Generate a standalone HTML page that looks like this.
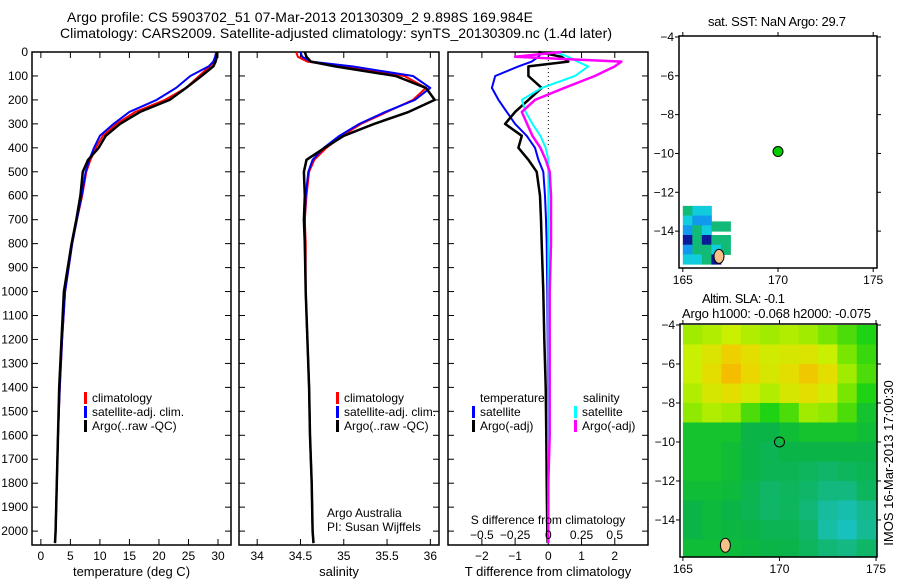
<!DOCTYPE html>
<html><head><meta charset="utf-8"><style>
body{margin:0;background:#fff;width:900px;height:580px;overflow:hidden}
svg{font-family:"Liberation Sans",sans-serif;font-size:12px}
</style></head><body>
<svg id="fig" width="900" height="580"></svg>
<script>
// ---------- data ----------
const depthArgo = [0,20,40,60,100,150,200,250,300,350,400,450,500,600,700,800,1000,1200,1400,1600,1800,2000,2050];
const tempArgo  = [29.9,29.8,29.6,29.2,27.2,24.6,21.8,16.8,13.4,11.0,9.8,8.0,7.1,6.7,6.0,5.2,3.9,3.5,3.1,2.9,2.7,2.5,2.4];
const tempClim  = [29.8,29.7,29.4,28.6,26.8,24.6,21.0,16.0,12.8,10.5,9.3,8.4,7.7,7.0,6.1,5.3,4.1,3.6,3.2,2.9,2.7,2.5,2.4];
const tempSat   = [29.7,29.5,29.2,28.4,25.3,22.9,19.6,15.0,12.3,10.0,9.0,8.2,7.6,6.9,6.1,5.3,4.1,3.6,3.2,2.9,2.7,2.5,2.4];
const salArgo   = [34.55,34.57,34.62,34.9,35.6,35.95,36.05,35.75,35.35,35.0,34.78,34.57,34.54,34.55,34.54,34.55,34.56,34.58,34.6,34.61,34.63,34.64,34.65];
const salClim   = [34.45,34.47,34.58,35.0,35.7,35.95,35.8,35.5,35.2,34.98,34.8,34.66,34.6,34.57,34.55,34.56,34.56,34.58,34.6,34.61,34.63,34.64,34.65];
const salSat    = [34.5,34.52,34.62,35.1,35.8,36.0,35.82,35.48,35.18,34.95,34.77,34.64,34.59,34.56,34.55,34.55,34.56,34.58,34.6,34.61,34.63,34.64,34.65];
const dTsat     = [-0.2,-0.3,-0.5,-0.9,-1.6,-1.7,-1.5,-1.25,-1.0,-0.65,-0.4,-0.3,-0.15,-0.1,-0.07,-0.05,-0.03,-0.02,-0.01,0,0,0,0];
const dTargo    = [-0.3,0.4,0.6,-0.6,-0.6,-0.2,-0.6,-1.0,-1.3,-0.8,-0.9,-0.6,-0.35,-0.25,-0.22,-0.2,-0.15,-0.12,-0.08,-0.06,-0.05,-0.03,-0.02];
const dSsat     = [0.05,0.15,0.22,0.3,0.2,-0.05,-0.2,-0.17,-0.12,-0.06,-0.02,0,0,0,0,0,0,0,0,0,0,0,0];
const dSargo    = [0.1,-0.25,0.55,0.5,0.35,0.12,-0.1,-0.2,-0.16,-0.12,-0.06,-0.02,0.01,0.02,0.02,0.02,0.01,0.01,0.01,0.01,0.0,0.0,0.0];
const depthTicks = [0,100,200,300,400,500,600,700,800,900,1000,1100,1200,1300,1400,1500,1600,1700,1800,1900,2000];
const tempTicks = [0,5,10,15,20,25,30];
const salTicks = [34,34.5,35,35.5,36];
const dTTicks = [-2,-1,0,1,2];
const dSTicks = [-0.5,-0.25,0,0.25,0.5];
const lonTicks = [165,170,175];
const latTicks = [-4,-6,-8,-10,-12,-14];
// SLA grid rows lat -4..-16 (1 deg), cols lon 165..175 (1 deg); 0=cyan .. 1=orange
const slaGrid = [
[0.70,0.72,0.75,0.72,0.70,0.72,0.70,0.65,0.60,0.55],
[0.75,0.82,0.90,0.85,0.78,0.80,0.82,0.75,0.65,0.58],
[0.75,0.85,0.95,0.88,0.80,0.85,0.92,0.85,0.70,0.60],
[0.72,0.80,0.85,0.78,0.72,0.80,0.85,0.78,0.65,0.55],
[0.68,0.72,0.70,0.60,0.55,0.60,0.70,0.68,0.60,0.50],
[0.50,0.50,0.50,0.45,0.45,0.48,0.50,0.50,0.50,0.48],
[0.50,0.50,0.48,0.45,0.42,0.45,0.45,0.45,0.45,0.45],
[0.50,0.50,0.48,0.45,0.42,0.42,0.40,0.38,0.40,0.42],
[0.48,0.48,0.47,0.43,0.38,0.40,0.38,0.33,0.33,0.40],
[0.45,0.47,0.45,0.42,0.38,0.40,0.35,0.25,0.20,0.30],
[0.45,0.47,0.46,0.45,0.42,0.42,0.38,0.22,0.15,0.28],
[0.48,0.48,0.47,0.46,0.45,0.44,0.40,0.35,0.32,0.38]];
// SST patch cells: lon, lat(top), colour index
const sstLon = [165,165.5,166,165,165.5,166,165,165.5,166,166.5,167,165,165.5,166,166.5,167,165,165.5,166,166.5,167,165,165.5,166,166.5];
const sstLat = [-12.7,-12.7,-12.7,-13.2,-13.2,-13.2,-13.7,-13.7,-13.7,-13.5,-13.5,-14.2,-14.2,-14.2,-14.2,-14.2,-14.7,-14.7,-14.7,-14.7,-14.7,-15.2,-15.2,-15.2,-15.2];
const sstCol = [0,1,1,1,2,2,2,0,1,0,0,3,0,3,0,0,2,0,0,1,0,1,1,0,3];
// ---------- helpers ----------
const NS="http://www.w3.org/2000/svg";
const svg=document.getElementById('fig');
function el(tag,attrs,parent){const e=document.createElementNS(NS,tag);for(const k in attrs)e.setAttribute(k,attrs[k]);(parent||svg).appendChild(e);return e;}
function txt(x,y,s,anchor,parent){const t=el('text',{x:x,y:y,'text-anchor':anchor||'start'},parent);t.textContent=s;return t;}
const Y0=52, Y1=545, DMAX=2058;
const yD=d=>Y0+d/DMAX*(Y1-Y0);
function line(xs,ds,fx,color,w,name){
  const p=el('polyline',{points:xs.map((v,i)=>fx(v).toFixed(1)+','+yD(ds[i]).toFixed(1)).join(' '),fill:'none',stroke:color,'stroke-width':w,'stroke-linejoin':'round'});
  
  
}
// titles
const title=el('g',{});


const t1=txt(67,22,'Argo profile: CS 5903702_51 07-Mar-2013 20130309_2 9.898S 169.984E','start',title);
t1.setAttribute('textLength','466');t1.setAttribute('font-size','14');
const t2=txt(60,38,'Climatology: CARS2009. Satellite-adjusted climatology: synTS_20130309.nc (1.4d later)','start',title);
t2.setAttribute('textLength','552');t2.setAttribute('font-size','14');

function panel(name,x0,x1,xmin,xmax,ticks,label,showY){
  const g=el('g',{});
  
  
  el('rect',{x:x0,y:Y0,width:x1-x0,height:Y1-Y0,fill:'none',stroke:'#000','stroke-width':1.5},g);
  const fx=v=>x0+(v-xmin)/(xmax-xmin)*(x1-x0);
  ticks.forEach(t=>{const x=fx(t);el('line',{x1:x,x2:x,y1:Y1,y2:Y1-6,stroke:'#000'},g);el('line',{x1:x,x2:x,y1:Y0,y2:Y0+6,stroke:'#000'},g);txt(x,560,String(t).replace('-','−'),'middle',g);});
  depthTicks.forEach(d=>{const y=yD(d);el('line',{x1:x0,x2:x0+6,y1:y,y2:y,stroke:'#000'},g);el('line',{x1:x1,x2:x1-6,y1:y,y2:y,stroke:'#000'},g);if(showY)txt(28,y+4,String(d),'end',g);});
  const lt=txt((x0+x1)/2,576,label,'middle',g);lt.setAttribute('font-size','13');
  return fx;
}
function legend(x,y,items){
  items.forEach((it,i)=>{el('rect',{x:x,y:y+i*14-10,width:3,height:12,fill:it[0]});const t=txt(x+8,y+i*14,it[1]);});
}
// panel 1 temperature
const fT=panel('temperature-panel',32,231,-1.5,32.2,tempTicks,'temperature (deg C)',true);
line(tempClim,depthArgo,fT,'#f00',2,'temp-climatology-line');
line(tempSat,depthArgo,fT,'#00f',2,'temp-satellite-line');
line(tempArgo,depthArgo,fT,'#000',2.5,'temp-argo-line');
legend(84,402,[['#f00','climatology'],['#00f','satellite-adj. clim.'],['#000','Argo(..raw -QC)']]);
// panel 2 salinity
const fS=panel('salinity-panel',239,439,33.79,36.1,salTicks,'salinity',false);
line(salClim,depthArgo,fS,'#f00',2,'sal-climatology-line');
line(salSat,depthArgo,fS,'#00f',2,'sal-satellite-line');
line(salArgo,depthArgo,fS,'#000',2.5,'sal-argo-line');
legend(336,402,[['#f00','climatology'],['#00f','satellite-adj. clim.'],['#000','Argo(..raw -QC)']]);
txt(327,517,'Argo Australia');txt(327,531,'PI: Susan Wijffels');
// panel 3 differences
const fD=panel('difference-panel',448,648,-3.02,3.0,dTTicks,'T difference from climatology',false);
el('line',{x1:fD(0),x2:fD(0),y1:Y0,y2:yD(400),stroke:'#000','stroke-dasharray':'1,3'});
line(dTsat,depthArgo,fD,'#00f',2,'dT-satellite-line');
line(dTargo,depthArgo,fD,'#000',2.5,'dT-argo-line');
line(dSsat.map(v=>v*4),depthArgo,fD,'#0ff',2,'dS-satellite-line');
line(dSargo.map(v=>v*4),depthArgo,fD,'#f0f',2.5,'dS-argo-line');
txt(480,402,'temperature');txt(583,402,'salinity');
legend(472,416,[['#00f','satellite'],['#000','Argo(-adj)']]);
legend(574,416,[['#0ff','satellite'],['#f0f','Argo(-adj)']]);
txt(548,524,'S difference from climatology','middle');
dSTicks.forEach(t=>txt(fD(t*4),539,String(t).replace('-','−'),'middle'));
// maps
function map(name,x0,y0,x1,y1,latTop,latBot,lonL,lonR,titles){
  const g=el('g',{});
  
  
  const fx=l=>x0+(l-lonL)/(lonR-lonL)*(x1-x0);
  const fy=l=>y0+(latTop-l)/(latTop-latBot)*(y1-y0);
  titles.forEach(s=>{const t=txt(s[1],s[2],s[0],'start',g);t.setAttribute('textLength',s[3]);t.setAttribute('font-size','13');});
  return {g,fx,fy,frame:()=>{
    el('rect',{x:x0,y:y0,width:x1-x0,height:y1-y0,fill:'none',stroke:'#000','stroke-width':1.5},g);
    lonTicks.forEach(t=>{el('line',{x1:fx(t),x2:fx(t),y1:y0,y2:y0-4,stroke:'#000'},g);el('line',{x1:fx(t),x2:fx(t),y1:y1,y2:y1+4,stroke:'#000'},g);txt(fx(t),y1+16,String(t),'middle',g);});
    latTicks.forEach(t=>{el('line',{x1:x0,x2:x0-4,y1:fy(t),y2:fy(t),stroke:'#000'},g);el('line',{x1:x1,x2:x1+4,y1:fy(t),y2:fy(t),stroke:'#000'},g);txt(x0-5,fy(t)+4,String(t).replace('-','−'),'end',g);});
  }};
}
const m1=map('sst-map',679,36,877,268,-3.95,-15.9,164.8,175.2,[['sat. SST: NaN Argo: 29.7',708,26,138]]);
const sstColors=['#11bb77','#11ccdd','#1199ee','#0a1a99'];
sstLon.forEach((lo,i)=>{const r=el('rect',{x:m1.fx(lo),y:m1.fy(sstLat[i]),width:m1.fx(lo+0.5)-m1.fx(lo)+0.5,height:m1.fy(sstLat[i]-0.5)-m1.fy(sstLat[i])+0.5,fill:sstColors[sstCol[i]]},m1.g);});
el('ellipse',{cx:m1.fx(166.9),cy:m1.fy(-15.3),rx:5,ry:7,fill:'#f5c08a',stroke:'#000'},m1.g);
el('circle',{cx:m1.fx(170),cy:m1.fy(-9.9),r:5,fill:'#00cc00',stroke:'#000'},m1.g);
m1.frame();
const m2=map('sla-map',680,324,877,557,-3.95,-15.9,164.85,175.05,[['Altim. SLA: -0.1',702,303,83],['Argo h1000: -0.068 h2000: -0.075',682,318,189]]);
function cmap(v){const st=[[0,[30,200,235]],[0.3,[20,185,140]],[0.45,[10,180,70]],[0.55,[30,210,20]],[0.65,[120,230,0]],[0.75,[200,240,0]],[0.88,[235,215,0]],[1,[250,170,0]]];
  for(let i=1;i<st.length;i++)if(v<=st[i][0]){const a=st[i-1],b=st[i],t=(v-a[0])/(b[0]-a[0]);return 'rgb('+a[1].map((c,k)=>Math.round(c+(b[1][k]-c)*t)).join(',')+')';}return 'rgb(250,170,0)';}
slaGrid.forEach((row,r)=>row.forEach((v,c)=>{const x=Math.max(m2.fx(165+c),680),y=Math.max(m2.fy(-4-r),324);const x2=c===9?877:m2.fx(166+c);const y2=Math.min(r===11?557:m2.fy(-5-r),557);const cell=el('rect',{x:x,y:y,width:x2-x+0.6,height:y2-y+0.6,fill:cmap(v)},m2.g);}));
el('ellipse',{cx:m2.fx(167.2),cy:m2.fy(-15.3),rx:5,ry:7,fill:'#f5c08a',stroke:'#000'},m2.g);
el('circle',{cx:m2.fx(170),cy:m2.fy(-10),r:5,fill:'none',stroke:'#000'},m2.g);
m2.frame();
const side=txt(0,0,'IMOS 16-Mar-2013 17:00:30','middle');
side.setAttribute('transform','translate(893,463) rotate(-90)');
side.setAttribute('font-size','13');


</script>
</body></html>
